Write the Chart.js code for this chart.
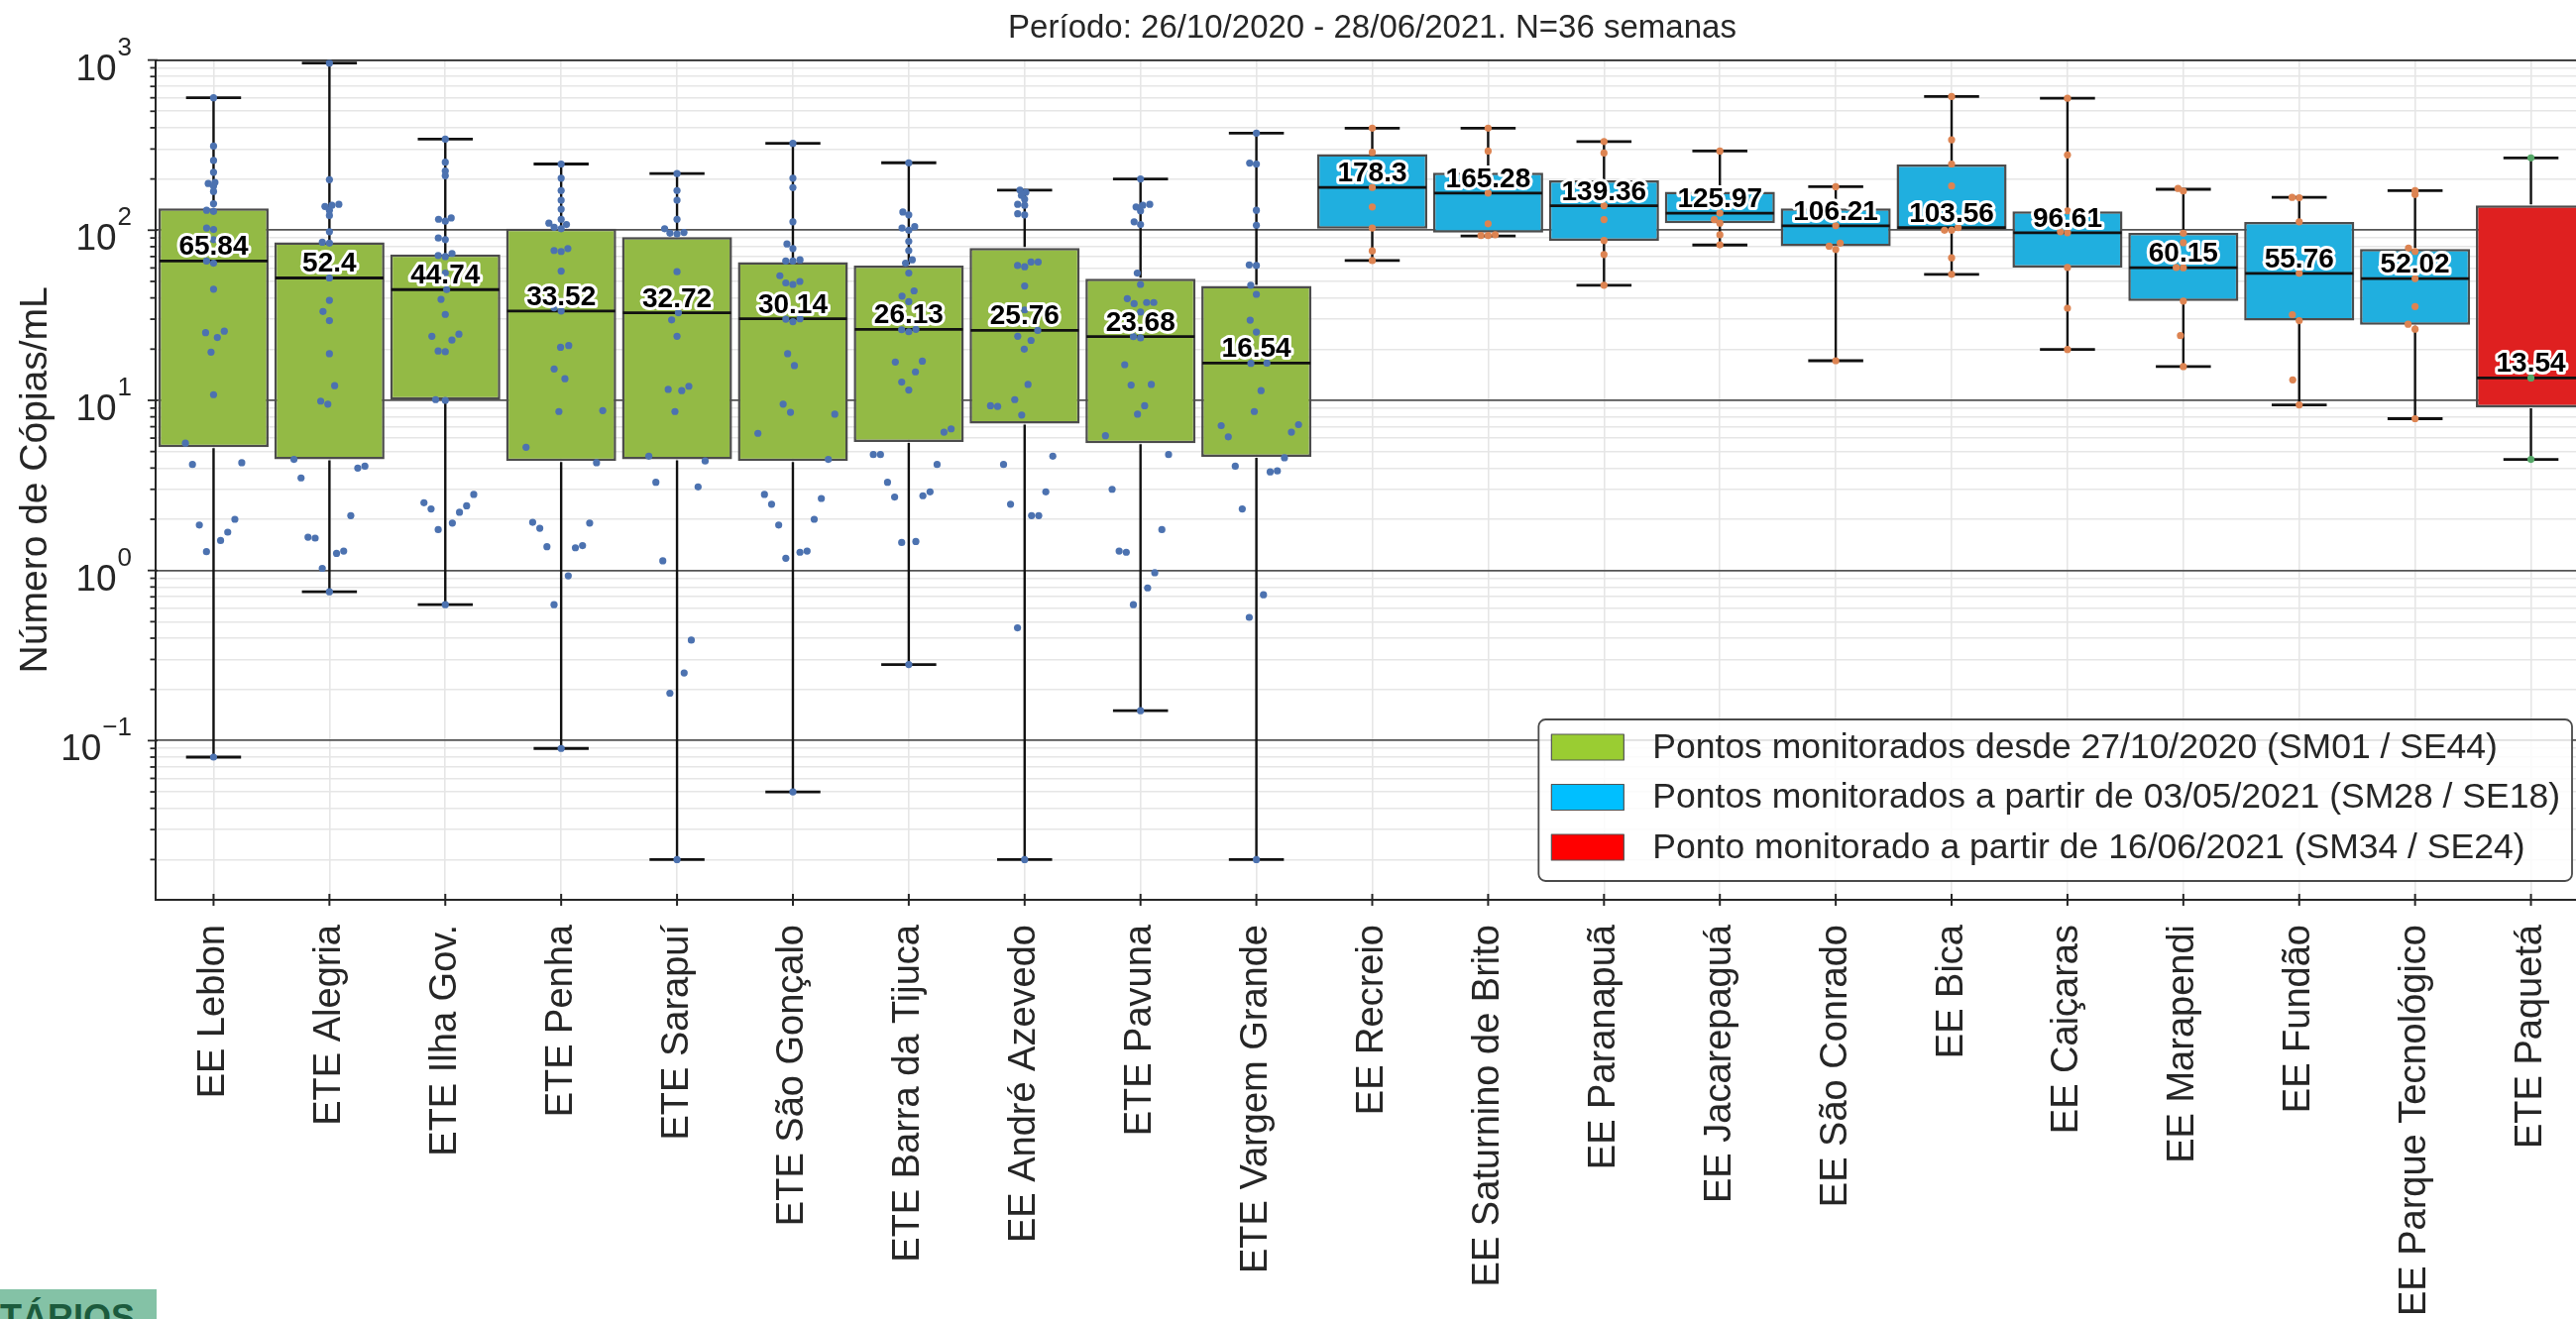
<!DOCTYPE html>
<html>
<head>
<meta charset="utf-8">
<script src="https://cdn.jsdelivr.net/npm/chart.js@4.4.1/dist/chart.umd.min.js"></script>
<style>
html, body { margin: 0; padding: 0; background: #fff; overflow: hidden; }
#grafica { display: block; }
#etiqueta {
    position: absolute; left: 0; top: 1301px; width: 158px; height: 30px;
    background: #84c2a6; overflow: hidden; box-sizing: border-box;
    padding: 8px 0 0 0; line-height: 1; white-space: nowrap;
    font: bold 36px "Liberation Sans", Arial, sans-serif; color: #1c5b3d;
}
</style>
</head>
<body>
<canvas id="grafica" width="2640" height="1331"></canvas>
<div id="etiqueta">TÁRIOS</div>
<script>
var FONTE = '"Liberation Sans", Arial, Helvetica, sans-serif';
var TITULO = 'Período: 26/10/2020 - 28/06/2021. N=36 semanas';
var ROTULO_Y = 'Número de Cópias/mL';

var categorias = ["EE Leblon", "ETE Alegria", "ETE Ilha Gov.", "ETE Penha", "ETE Sarapuí", "ETE São Gonçalo",
    "ETE Barra da Tijuca", "EE André Azevedo", "ETE Pavuna", "ETE Vargem Grande", "EE Recreio",
    "EE Saturnino de Brito", "EE Paranapuã", "EE Jacarepaguá", "EE São Conrado", "EE Bica", "EE Caiçaras",
    "EE Marapendi", "EE Fundão", "EE Parque Tecnológico", "ETE Paquetá"];
var grupo = [0, 0, 0, 0, 0, 0, 0, 0, 0, 0, 1, 1, 1, 1, 1, 1, 1, 1, 1, 1, 2];

var medianas = [65.84, 52.4, 44.74, 33.52, 32.72, 30.14, 26.13, 25.76, 23.68, 16.54, 178.3, 165.28, 139.36,
    125.97, 106.21, 103.56, 96.61, 60.15, 55.76, 52.02, 13.54];
var quartil1 = [5.3, 4.5, 10.1, 4.4, 4.5, 4.4, 5.7, 7.3, 5.6, 4.65, 102, 96.7, 86.6, 110, 80.5, 100, 60.4, 38.3,
    29.4, 27.8, 9.1];
var quartil3 = [134.6, 85, 72, 102, 91, 64.9, 62, 78.7, 51.9, 47.1, 280, 217.6, 196, 168, 134.6, 243, 129, 96.3,
    111.7, 77.6, 140];
var bigodeMin = [0.08, 0.75, 0.63, 0.09, 0.02, 0.05, 0.28, 0.02, 0.15, 0.02, 66.3, 92.6, 47.5, 81.8, 17.1, 55,
    19.9, 15.8, 9.4, 7.8, 4.5];
var bigodeMax = [600, 960, 343, 245, 215, 324, 249, 172, 200, 372, 398, 398, 332, 292, 180, 610, 596, 174, 156,
    171, 266];

var pontos = [
    [600, 312, 257, 219, 191, 188, 182, 169, 143, 131, 129, 103, 101, 88, 65.84, 64, 45, 25.5, 25, 23.4, 19.2,
        10.8, 5.6, 4.3, 4.2, 2.0, 1.85, 1.68, 1.5, 1.29, 0.08],
    [960, 198, 142, 140, 138, 131, 122, 98, 85, 84, 52.4, 38.7, 33.3, 29.4, 18.8, 12.2, 9.9, 9.5, 4.5, 4.1, 4.0,
        3.5, 2.1, 1.57, 1.55, 1.3, 1.26, 1.03, 0.75],
    [343, 251, 223, 209, 118, 116, 113, 90, 88, 73, 71, 70, 56, 44.74, 39.2, 32, 24.5, 23.8, 22.6, 19.5, 19.3,
        10.1, 10.0, 2.8, 2.5, 2.4, 2.3, 2.2, 1.9, 1.74, 0.63],
    [245, 202, 171, 150, 133, 116, 110, 108, 104, 102, 78, 76, 75, 57.5, 35, 33.52, 21, 20.5, 15.3, 13.4, 8.7,
        8.6, 5.3, 4.3, 1.92, 1.9, 1.77, 1.4, 1.38, 1.36, 0.93, 0.63, 0.09],
    [215, 171, 150, 116, 102, 97, 96, 95, 57, 32.72, 29.7, 23.8, 12.1, 11.6, 11.4, 8.6, 4.7, 4.4, 3.3, 3.1,
        1.14, 0.39, 0.25, 0.19, 0.02],
    [324, 202, 178, 112, 83, 78, 67, 66, 66, 54, 50, 49, 48, 30.14, 30, 29, 18.8, 16, 9.5, 8.5, 8.3, 6.4, 4.5,
        2.8, 2.65, 2.45, 2.0, 1.85, 1.3, 1.28, 1.18, 0.05],
    [249, 128, 123, 105, 103, 100, 86, 76, 67, 64, 56, 44, 41, 38, 26.13, 26, 25.3, 17, 16.8, 14.7, 12.8, 11.5,
        6.8, 6.5, 4.8, 4.8, 4.2, 3.3, 2.9, 2.75, 2.7, 1.48, 1.46, 0.28],
    [172, 167, 160, 152, 142, 140, 125, 123, 65, 65, 62, 61, 47, 34, 25.76, 23.8, 22.5, 20, 12.4, 10.1, 9.3,
        9.2, 8.2, 4.7, 4.2, 2.9, 2.45, 2.1, 2.1, 0.46, 0.02],
    [200, 142, 140, 137, 130, 112, 108, 56, 48, 39.6, 37.6, 37.6, 37, 33, 23.68, 23.3, 16.2, 12.4, 12.3, 9.3,
        8.3, 6.2, 4.8, 3.0, 1.74, 1.3, 1.28, 0.97, 0.79, 0.63, 0.15],
    [372, 248, 245, 131, 107, 62.5, 62, 47.5, 42, 29.6, 25.2, 16.54, 16.5, 11.4, 8.6, 7.2, 7.1, 6.5, 6.1, 4.6,
        4.1, 3.85, 3.8, 2.3, 0.72, 0.53, 0.02],
    [398, 287, 178.3, 137, 103, 75.6, 66.3],
    [398, 292, 165.28, 109, 94, 93, 93],
    [332, 284, 139.36, 115.5, 87, 72, 47.5],
    [292, 125.97, 115.5, 110, 94, 82],
    [180, 106.21, 84, 80.5, 77, 17.1],
    [610, 340, 245, 182, 103.56, 100, 100, 68.8, 55],
    [596, 277, 130, 98, 96.61, 60.4, 34.8, 19.9],
    [176, 170, 96, 84.4, 60.4, 60.15, 38.3, 24, 15.8],
    [156, 155, 112, 55.76, 31.9, 29.4, 13.2, 9.4],
    [171, 162, 78.5, 75, 52.02, 35.6, 28, 26.2, 7.8],
    [266, 13.54, 4.5]
];

var legendaTextos = ["Pontos monitorados desde 27/10/2020 (SM01 / SE44)",
    "Pontos monitorados a partir de 03/05/2021 (SM28 / SE18)",
    "Ponto monitorado a partir de 16/06/2021 (SM34 / SE24)"];
var expoentesY = [-1, 0, 1, 2, 3];

var corCaixa = ['#93ba45', '#20afdf', '#df2020'];
var corLegenda = ['#9acd32', '#00bfff', '#ff0000'];
var corPonto = ['#4c72b0', '#dd8452', '#55a868'];

var Y_MIN = 0.0116, Y_MAX = 1000;
var RAIO = 3.6;

function valoresGrade() {
    var v = [];
    for (var e = -2; e <= 2; e++) {
        for (var m = 1; m <= 9; m++) {
            var x = parseFloat((m * Math.pow(10, e)).toPrecision(6));
            if (x >= Y_MIN && x < Y_MAX) v.push(x);
        }
    }
    v.push(Y_MAX);
    return v;
}

function ehMaior(v) {
    var l = Math.log10(v);
    return Math.abs(l - Math.round(l)) < 1e-9;
}

// enxame calculado em escala linear (como o swarmplot original), depois o eixo vira log
function enxame(valores, pxPorUnidade, r) {
    var ordem = valores.map(function (v, i) { return i; }).sort(function (a, b) { return valores[a] - valores[b]; });
    var colocados = [];
    var saida = [];
    ordem.forEach(function (i) {
        var y = valores[i] * pxPorUnidade;
        var perto = colocados.filter(function (p) { return Math.abs(p.y - y) < 2 * r; });
        var cand = [0];
        perto.forEach(function (p) {
            var dy = y - p.y;
            var dx = Math.sqrt(4 * r * r - dy * dy);
            cand.push(p.x - dx, p.x + dx);
        });
        cand.sort(function (a, b) { return Math.abs(a) - Math.abs(b); });
        var x = cand.find(function (c) {
            return perto.every(function (p) { return (c - p.x) * (c - p.x) + (y - p.y) * (y - p.y) >= 4 * r * r - 0.01; });
        });
        if (x === undefined) x = 0;
        colocados.push({ x: x, y: y });
        saida[i] = x;
    });
    return saida;
}

function linha(c, x1, y1, x2, y2) {
    c.beginPath();
    c.moveTo(x1, y1);
    c.lineTo(x2, y2);
    c.stroke();
}

var pluginCaixas = {
    id: 'caixas',
    afterDatasetDraw: function (chart, args) {
        if (args.index !== 0) return;
        var c = chart.ctx, y = chart.scales.y;
        var meta = chart.getDatasetMeta(0);
        c.save();
        c.strokeStyle = '#111';
        meta.data.forEach(function (bar, i) {
            var x = bar.x, meia = bar.width / 2;
            var yq1 = y.getPixelForValue(quartil1[i]);
            var yq3 = y.getPixelForValue(quartil3[i]);
            var ylo = y.getPixelForValue(bigodeMin[i]);
            var yhi = y.getPixelForValue(bigodeMax[i]);
            var ymed = y.getPixelForValue(medianas[i]);
            c.lineWidth = 2.4;
            linha(c, x, yq3 - 1, x, yhi);
            linha(c, x, yq1 + 1, x, ylo);
            c.lineWidth = 2.8;
            linha(c, x - meia / 2, yhi, x + meia / 2, yhi);
            linha(c, x - meia / 2, ylo, x + meia / 2, ylo);
            linha(c, x - meia + 1, ymed, x + meia - 1, ymed);
        });
        c.restore();
    },
    afterDraw: function (chart) {
        var c = chart.ctx, y = chart.scales.y, x = chart.scales.x, a = chart.chartArea;
        var meta = chart.getDatasetMeta(0);
        c.save();

        // rotulos das medianas
        c.font = 'bold 28px ' + FONTE;
        c.textAlign = 'center';
        c.textBaseline = 'alphabetic';
        c.lineJoin = 'round';
        c.lineWidth = 6;
        c.strokeStyle = '#fff';
        c.fillStyle = '#000';
        meta.data.forEach(function (bar, i) {
            var py = y.getPixelForValue(medianas[i]) - 6;
            c.strokeText(String(medianas[i]), bar.x, py);
            c.fillText(String(medianas[i]), bar.x, py);
        });

        // legenda
        c.font = '35.5px ' + FONTE;
        var maxW = 0;
        legendaTextos.forEach(function (t) { maxW = Math.max(maxW, c.measureText(t).width); });
        var dir = a.right - 17, base = a.bottom - 19;
        var larg = 13 + 73 + 29 + maxW + 12, alt = 163;
        var esq = dir - larg, topo = base - alt;
        c.beginPath();
        c.roundRect(esq, topo, larg, alt, 7);
        c.fillStyle = 'rgba(255,255,255,0.82)';
        c.fill();
        c.lineWidth = 1.8;
        c.strokeStyle = '#4a4a4a';
        c.stroke();
        c.textAlign = 'left';
        c.textBaseline = 'middle';
        legendaTextos.forEach(function (t, i) {
            var cy = topo + 28 + i * 50.5;
            c.fillStyle = corLegenda[i];
            c.fillRect(esq + 13, cy - 13, 73, 26);
            c.lineWidth = 1.2;
            c.strokeStyle = '#555';
            c.strokeRect(esq + 13, cy - 13, 73, 26);
            c.fillStyle = '#262626';
            c.fillText(t, esq + 13 + 73 + 29, cy + 1);
        });

        // marcas do eixo y
        c.strokeStyle = '#262626';
        c.lineWidth = 1.8;
        valoresGrade().forEach(function (v) {
            var py = y.getPixelForValue(v);
            var len = ehMaior(v) ? 8 : 5.5;
            linha(c, a.left - len, py, a.left + (ehMaior(v) ? 2 : 0), py);
        });
        // marcas do eixo x (cruzando o eixo)
        c.lineWidth = 2;
        categorias.forEach(function (n, i) {
            var px = x.getPixelForValue(i);
            linha(c, px, a.bottom - 6, px, a.bottom + 6);
        });

        // rotulos 10^n
        c.fillStyle = '#262626';
        c.textAlign = 'left';
        c.textBaseline = 'alphabetic';
        expoentesY.forEach(function (e) {
            var py = y.getPixelForValue(Math.pow(10, e));
            var sup = e < 0 ? '\u2212' + Math.abs(e) : String(e);
            c.font = '26px ' + FONTE;
            var wSup = c.measureText(sup).width;
            c.font = '37px ' + FONTE;
            var wBase = c.measureText('10').width;
            var xFim = a.left - 24;
            c.fillText('10', xFim - wSup - wBase - 1, py + 20);
            c.font = '26px ' + FONTE;
            c.fillText(sup, xFim - wSup, py - 5);
        });

        // titulo do eixo y
        c.translate(36, (a.top + a.bottom) / 2);
        c.rotate(-Math.PI / 2);
        c.font = '39px ' + FONTE;
        c.textAlign = 'center';
        c.textBaseline = 'middle';
        c.fillText(ROTULO_Y, 0, 0);
        c.restore();
    }
};

var ctx = document.getElementById('grafica').getContext('2d');
var grafico = new Chart(ctx, {
    type: 'bar',
    data: {
        labels: categorias,
        datasets: [
            {
                label: 'caixas',
                data: categorias.map(function (c, i) { return [quartil1[i], quartil3[i]]; }),
                backgroundColor: grupo.map(function (g) { return corCaixa[g]; }),
                borderColor: '#4c4c4c',
                borderWidth: 2.5,
                borderSkipped: false,
                grouped: false,
                barPercentage: 0.95,
                categoryPercentage: 1,
                order: 2,
                xAxisID: 'x',
                yAxisID: 'y'
            },
            {
                type: 'scatter',
                label: 'pontos',
                data: [],
                xAxisID: 'xs',
                yAxisID: 'y',
                pointRadius: RAIO,
                pointHoverRadius: RAIO,
                pointBorderWidth: 0,
                pointBackgroundColor: [],
                order: 1
            }
        ]
    },
    options: {
        responsive: false,
        animation: false,
        devicePixelRatio: 1,
        layout: { padding: { left: 0, right: 28, top: 0, bottom: 0 } },
        plugins: {
            legend: { display: false },
            tooltip: { enabled: false },
            title: {
                display: true,
                text: TITULO,
                fullSize: false,
                color: '#262626',
                font: { family: FONTE, size: 33, weight: 'normal' },
                padding: { top: 9, bottom: 12 }
            }
        },
        scales: {
            x: {
                type: 'category',
                offset: true,
                grid: { offset: false, color: '#e6e6e6', lineWidth: 1.6, drawTicks: false },
                border: { color: '#262626', width: 2 },
                ticks: {
                    autoSkip: false, minRotation: 90, maxRotation: 90, padding: 25, color: '#262626',
                    font: { family: FONTE, size: 38 }
                },
                afterFit: function (s) { s.height = 423; }
            },
            xs: {
                type: 'linear',
                display: false,
                offset: false,
                min: -0.5,
                max: categorias.length - 0.5
            },
            y: {
                type: 'logarithmic',
                min: Y_MIN,
                max: Y_MAX,
                afterBuildTicks: function (s) {
                    s.ticks = valoresGrade().map(function (v) { return { value: v }; });
                },
                afterFit: function (s) { s.width = 157; },
                ticks: { display: false },
                grid: {
                    drawTicks: false,
                    color: function (c) {
                        if (!c.tick) return '#e6e6e6';
                        if (c.tick.value >= Y_MAX) return '#262626';
                        return ehMaior(c.tick.value) ? '#555' : '#e6e6e6';
                    },
                    lineWidth: function (c) {
                        return c.tick && ehMaior(c.tick.value) ? 1.8 : 1.6;
                    }
                },
                border: { color: '#262626', width: 2 }
            }
        }
    },
    plugins: [pluginCaixas]
});

var area = grafico.chartArea;
var pxPorUnidade = (area.bottom - area.top) / 1056;
var larguraCat = (area.right - area.left) / categorias.length;
var dados = [], cores = [];
pontos.forEach(function (lista, i) {
    var desl = enxame(lista, pxPorUnidade, RAIO);
    lista.forEach(function (v, j) {
        var d = Math.max(-0.4, Math.min(0.4, desl[j] / larguraCat));
        dados.push({ x: i + d, y: v });
        cores.push(corPonto[grupo[i]]);
    });
});
grafico.data.datasets[1].data = dados;
grafico.data.datasets[1].pointBackgroundColor = cores;
grafico.update('none');
</script>
</body>
</html>
